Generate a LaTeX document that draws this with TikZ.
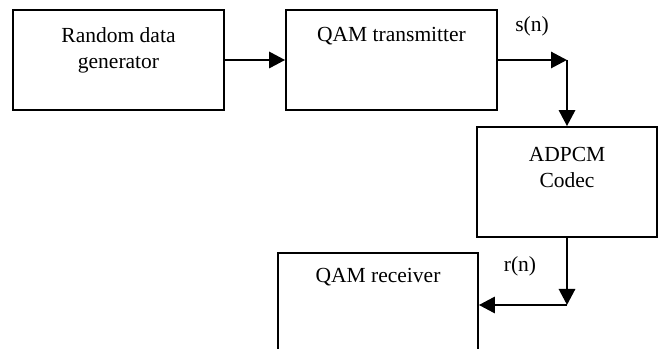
\documentclass[tikz,border=0pt]{standalone}
\usepackage{fontspec}
\setmainfont{Liberation Serif}
\usetikzlibrary{arrows.meta,positioning}

\begin{document}
\begin{tikzpicture}[
  blk/.style={draw, line width=1.2pt, inner sep=0pt},
  txt/.style={anchor=north, inner sep=0pt, align=center},
  arr/.style={line width=2.1pt, -{Triangle[length=0.4cm,width=0.4cm]}},
  font=\fontsize{15.3}{18.5}\selectfont]
  \useasboundingbox (0,0) rectangle (16.55,8.725);
  \clip (0,0) rectangle (16.55,8.725);

  \node [blk, minimum width=5.275cm, minimum height=2.5cm,
    label={[txt,yshift=-0.46cm]north:Random data\\generator}] (gen) at (2.9625,7.225) {};
  \node [blk, minimum width=5.275cm, minimum height=2.5cm,
    label={[txt,yshift=-0.44cm]north:QAM transmitter}] (tx) at (9.7875,7.225) {};
  \node [blk, minimum width=4.5cm, minimum height=2.75cm,
    label={[txt,yshift=-0.52cm]north:ADPCM\\Codec}] (adpcm) at (14.175,4.175) {};
  \node [blk, minimum width=5cm, minimum height=2.6cm,
    label={[txt,yshift=-0.39cm]north:QAM receiver}] (rx) at (9.45,1.1) {};

  \coordinate (c1) at (adpcm.north |- tx.east);
  \coordinate (c2) at (adpcm.south |- rx.east);

  \draw [arr] (gen.east) -- (tx.west);
  \draw [arr] (tx.east) -- (c1);
  \draw [arr] (c1) -- (adpcm.north);
  \draw [arr] (adpcm.south) -- (c2);
  \draw [arr] (c2) -- (rx.east);

  \node (sn) at (13.3,8.075) {s(n)};
  \node (rn) at (13.0,2.075) {r(n)};

\end{tikzpicture}
\end{document}
